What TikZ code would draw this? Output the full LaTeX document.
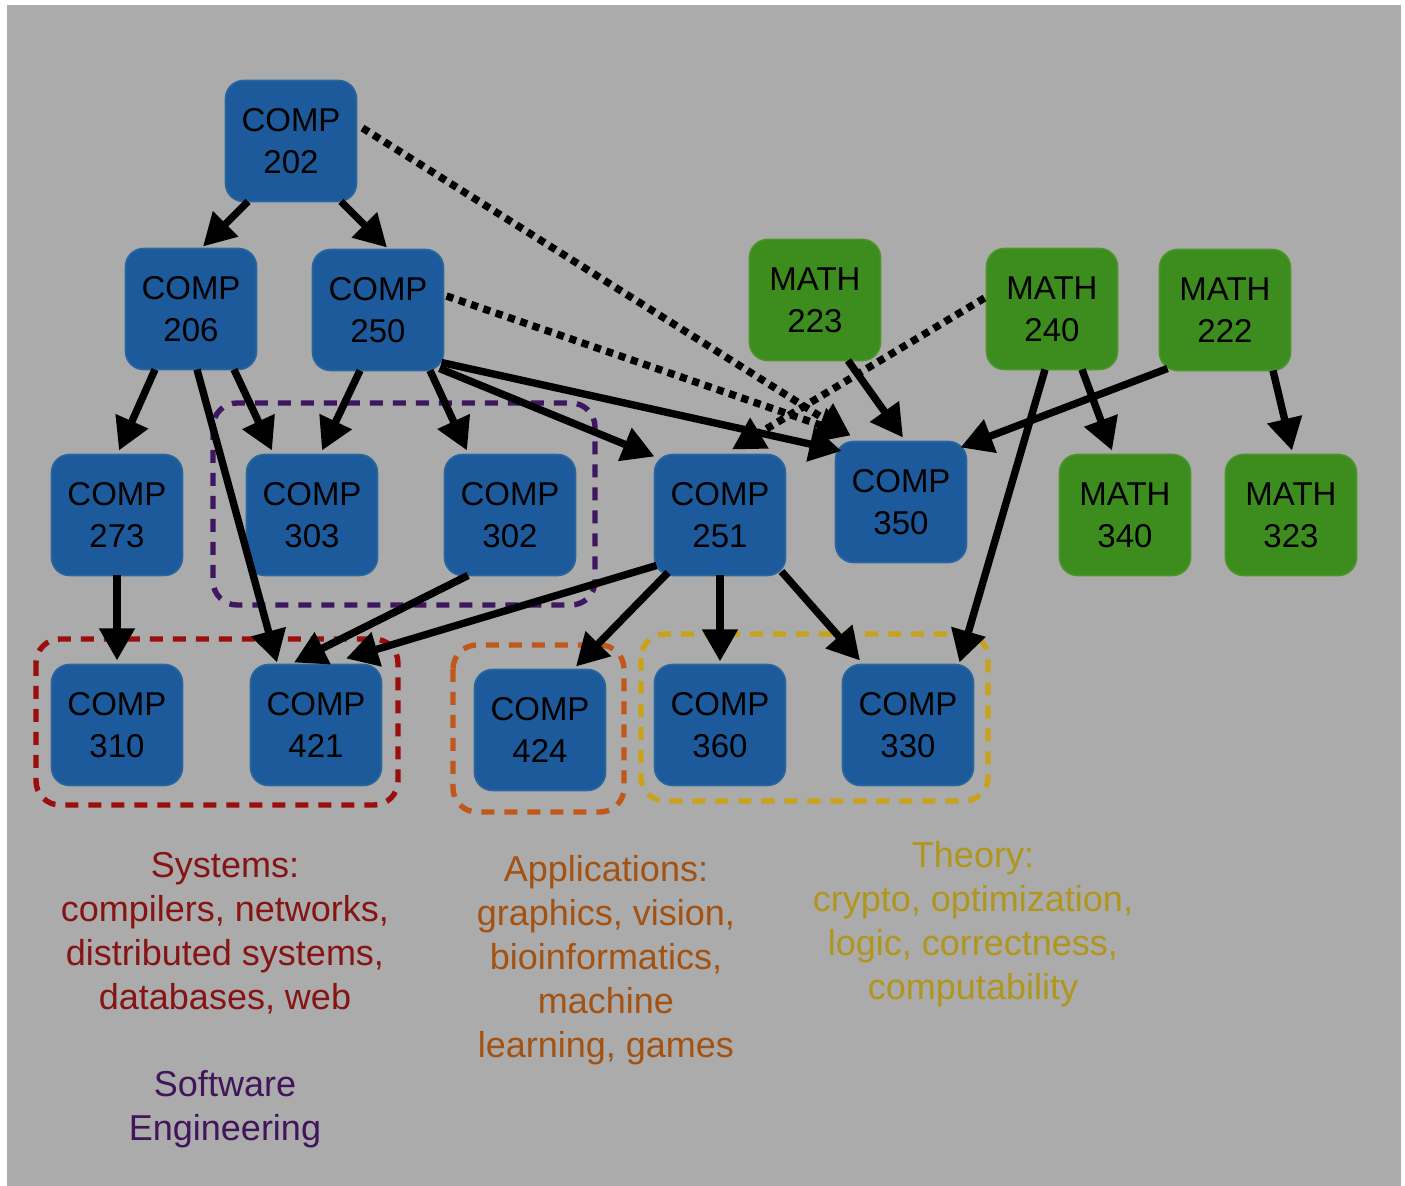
\documentclass[tikz,border=0pt]{standalone}
\usepackage{fontspec}
\setmainfont{Liberation Sans}
\usetikzlibrary{arrows.meta,calc}
\definecolor{bg}{HTML}{ABABAB}
\definecolor{compblue}{HTML}{1C5A9B}
\definecolor{compedge}{HTML}{2A679F}
\definecolor{mathgreen}{HTML}{3C8C1E}
\definecolor{mathedge}{HTML}{4A9628}
\definecolor{grpurple}{HTML}{3F1660}
\definecolor{grred}{HTML}{9A0E0E}
\definecolor{grorange}{HTML}{C0581C}
\definecolor{gryellow}{HTML}{C9A21C}
\definecolor{txred}{HTML}{861414}
\definecolor{txorange}{HTML}{A35212}
\definecolor{txyellow}{HTML}{B0961C}
\definecolor{txpurple}{HTML}{40155A}
\begin{document}
\begin{tikzpicture}[x=0.5pt,y=-0.5pt,
  course/.style={rectangle, rounded corners=9pt, minimum width=65.5pt, minimum height=60.5pt,
    inner sep=0pt, outer sep=0pt, align=center, line width=0.8pt, font=\fontsize{16.5}{21}\selectfont},
  comp/.style={course, fill=compblue, draw=compedge},
  math/.style={course, fill=mathgreen, draw=mathedge},
  prereq/.style={line width=3.7pt, -{Triangle[length=16pt,width=17pt]}},
  coreq/.style={prereq, dash pattern=on 3.6pt off 2.9pt},
  grp/.style={line width=2.7pt, dash pattern=on 6.5pt off 5pt, rounded corners=12pt},
  caption/.style={align=center, inner sep=0pt, font=\fontsize{18}{22}\selectfont}]
\fill[white] (0,0) rectangle (1405,1186);
\fill[bg] (7,5) rectangle (1401,1186);
\useasboundingbox (0,0) rectangle (1405,1186);

% groups
\draw[grp, grpurple] (213,403) rectangle (595,605);
\draw[grp, grred] (36,639) rectangle (398,805);
\draw[grp, grorange] (453,645) rectangle (624,812);
\draw[grp, gryellow] (641,634) rectangle (988,801);

% nodes
\node[comp] (n202) at (291,141) {COMP\\202};
\node[comp] (n206) at (191,309) {COMP\\206};
\node[comp] (n250) at (378,310) {COMP\\250};
\node[math] (m223) at (815,300) {MATH\\223};
\node[math] (m240) at (1052,309) {MATH\\240};
\node[math] (m222) at (1225,310) {MATH\\222};
\node[comp] (n273) at (117,515) {COMP\\273};
\node[comp] (n303) at (312,515) {COMP\\303};
\node[comp] (n302) at (510,515) {COMP\\302};
\node[comp] (n251) at (720,515) {COMP\\251};
\node[comp] (n350) at (901,502) {COMP\\350};
\node[math] (m340) at (1125,515) {MATH\\340};
\node[math] (m323) at (1291,515) {MATH\\323};
\node[comp] (n310) at (117,725) {COMP\\310};
\node[comp] (n421) at (316,725) {COMP\\421};
\node[comp] (n424) at (540,730) {COMP\\424};
\node[comp] (n360) at (720,725) {COMP\\360};
\node[comp] (n330) at (908,725) {COMP\\330};

% prerequisite arrows
\draw[prereq] ($(n202.south)+(-43,0)$) -- ($(n206.north)+(12,-2)$);
\draw[prereq] ($(n202.south)+(50,0)$) -- ($(n250.north)+(9,-2)$);
\draw[prereq] ($(n206.south)+(-36,0)$) -- ($(n273.north)+(2,-4)$);
\draw[prereq] ($(n206.south)+(43,0)$) -- ($(n303.north)+(-40,-4)$);
\draw[prereq] ($(n206.south)+(6,0)$) -- ($(n421.north)+(-39,-2)$);
\draw[prereq] ($(n250.south)+(-18,0)$) -- ($(n303.north)+(10,-4)$);
\draw[prereq] ($(n250.south)+(52,0)$) -- ($(n302.north)+(-43,-4)$);
\draw[prereq] ($(n250.south east)+(-4,-2)$) -- ($(n251.north west)+(0,2)$);
\draw[prereq] ($(n250.south east)+(-2,-8)$) -- ($(n350.west)+(6,-51)$);
\draw[coreq] ($(n202.east)+(6,-13)$) -- ($(n350.north west)+(15,-6)$);
\draw[coreq] ($(n250.east)+(3,-14)$) -- ($(n350.north west)+(15,-6)$);
\draw[coreq] ($(m240.west)+(-2,-11)$) -- ($(n251.north)+(12,-5)$);
\draw[prereq] ($(m223.south)+(33,0)$) -- ($(n350.north)+(2,-4)$);
\draw[prereq] ($(m222.south west)+(8,-2)$) -- ($(n350.north east)+(-6,6)$);
\draw[prereq] ($(m240.south)+(30,0)$) -- ($(m340.north)+(-13,-4)$);
\draw[prereq] ($(m240.south)+(-7,0)$) -- ($(n330.north east)+(-14,-2)$);
\draw[prereq] ($(m222.south)+(48,0)$) -- ($(m323.north)+(1,-4)$);
\draw[prereq] (n273.south) -- ($(n310.north)+(0,-4)$);
\draw[prereq] ($(n302.south)+(-42,0)$) -- ($(n421.north)+(-22,-2)$);
\draw[prereq] ($(n251.south west)+(2,-10)$) -- ($(n421.north)+(30,-6)$);
\draw[prereq] ($(n251.south)+(-52,-3)$) -- ($(n424.north)+(36,-3)$);
\draw[prereq] (n251.south) -- ($(n360.north)+(0,-3)$);
\draw[prereq] ($(n251.south east)+(-4,-4)$) -- ($(n330.north)+(-48,-4)$);

% captions
\node[caption, text=txred] (capsys) at (225,933) {Systems:\\compilers, networks,\\distributed systems,\\databases, web};
\node[caption, text=txpurple] (capse) at (225,1109) {Software\\Engineering};
\node[caption, text=txorange] (capapp) at (606,960) {Applications:\\graphics, vision,\\bioinformatics,\\machine\\learning, games};
\node[caption, text=txyellow] (capth) at (973,924) {Theory:\\crypto, optimization,\\logic, correctness,\\computability};
\end{tikzpicture}
\end{document}
